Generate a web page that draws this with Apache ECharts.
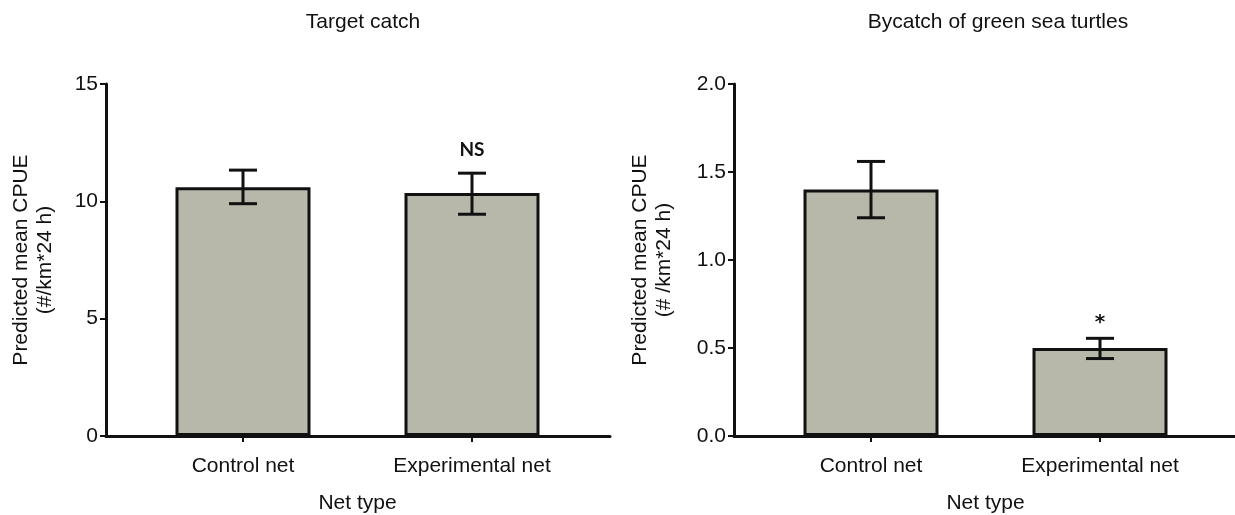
<!DOCTYPE html>
<html>
<head>
<meta charset="utf-8">
<script src="https://cdn.jsdelivr.net/npm/echarts@6/dist/echarts.min.js"></script>
<style>
html,body{margin:0;padding:0;background:#fff;}
#chart{width:1235px;height:515px;}
</style>
</head>
<body>
<div id="chart"></div>
<script>
// ---- data ----
const categories = ['Control net', 'Experimental net'];

const targetMean = [10.6, 10.35];
const targetLow  = [9.9, 9.45];
const targetHigh = [11.33, 11.2];
const targetSig  = ['', 'NS'];
const targetTicks = { min: 0, max: 15, interval: 5 };

const turtleMean = [1.40, 0.50];
const turtleLow  = [1.24, 0.44];
const turtleHigh = [1.56, 0.555];
const turtleSig  = ['', '*'];
const turtleTicks = { min: 0, max: 2, interval: 0.5 };

const titles = ['Target catch', 'Bycatch of green sea turtles'];
const yNames = ['Predicted mean CPUE\n(#/km*24 h)', 'Predicted mean CPUE\n(# /km*24 h)'];
const xName = 'Net type';

// ---- styling ----
const FONT = 'Liberation Sans, Arial, sans-serif';
const INK = '#111';
const BAR = '#b7b7aa';

const chart = echarts.init(document.getElementById('chart'), null, { renderer: 'canvas' });

function errSeries(gridIdx, low, high, sig) {
  return {
    type: 'custom',
    xAxisIndex: gridIdx * 2 + 1,
    yAxisIndex: gridIdx * 2 + 1,
    z: 5,
    data: categories.map((c, i) => [i, low[i], high[i]]),
    renderItem: function (params, api) {
      const i = api.value(0);
      const lo = api.coord([i, api.value(1)]);
      const hi = api.coord([i, api.value(2)]);
      const hw = 14;
      const st = { stroke: INK, lineWidth: 3 };
      const children = [
        { type: 'line', shape: { x1: lo[0], y1: lo[1], x2: hi[0], y2: hi[1] }, style: st },
        { type: 'line', shape: { x1: hi[0] - hw, y1: hi[1], x2: hi[0] + hw, y2: hi[1] }, style: st },
        { type: 'line', shape: { x1: lo[0] - hw, y1: lo[1], x2: lo[0] + hw, y2: lo[1] }, style: st }
      ];
      const s = sig[params.dataIndex];
      if (s) {
        const isStar = s === '*';
        children.push({
          type: 'text',
          style: {
            text: s, x: hi[0], y: isStar ? hi[1] - 6 : hi[1] - 14,
            align: 'center', verticalAlign: 'bottom',
            font: isStar ? 'bold 20px "DejaVu Sans", sans-serif' : 'bold 19px Lato, "Open Sans", sans-serif',
            fill: INK
          }
        });
      }
      return { type: 'group', children: children };
    }
  };
}

function barSeries(gridIdx, vals) {
  return {
    type: 'bar',
    xAxisIndex: gridIdx * 2 + 1,
    yAxisIndex: gridIdx * 2 + 1,
    data: vals,
    barWidth: 135,
    itemStyle: { color: BAR, borderColor: INK, borderWidth: 3 },
    animation: false
  };
}

const gridTop = 84, gridBottom = 79;
const G = { top: gridTop, bottom: gridBottom, containLabel: false, outerBoundsMode: 'none' };
const grids = [
  Object.assign({ left: 106, width: 504 }, G),        // axes frame (left)
  Object.assign({ left: 128.5, width: 458 }, G),      // bars (left)
  Object.assign({ left: 734, width: 504 }, G),        // axes frame (right)
  Object.assign({ left: 756.5, width: 458 }, G)       // bars (right)
];

function frameX(gi) {
  return {
    gridIndex: gi, type: 'value', min: 0, max: 1,
    axisLine: { show: true, onZero: false, lineStyle: { color: INK, width: 3 } },
    axisTick: { show: false }, axisLabel: { show: false }, splitLine: { show: false }
  };
}
function catX(gi) {
  return {
    gridIndex: gi, type: 'category', data: categories,
    axisLine: { show: false },
    axisTick: { show: true, alignWithLabel: true, length: 6, lineStyle: { color: INK, width: 2 } },
    axisLabel: { show: true, margin: 20, fontFamily: FONT, fontSize: 21, color: INK },
    name: xName, nameLocation: 'middle', nameGap: 57,
    nameTextStyle: { fontFamily: FONT, fontSize: 21, color: INK },
    splitLine: { show: false }
  };
}
function frameY(gi, t, name, gap) {
  return {
    gridIndex: gi, type: 'value', min: t.min, max: t.max, interval: t.interval,
    axisLine: { show: true, lineStyle: { color: INK, width: 3 } },
    axisTick: { show: true, length: 6, lineStyle: { color: INK, width: 2 } },
    axisLabel: {
      margin: 8, fontFamily: FONT, fontSize: 21, color: INK,
      formatter: v => (t.interval < 1 ? v.toFixed(1) : String(v))
    },
    splitLine: { show: false },
    name: name, nameLocation: 'middle', nameGap: gap, nameRotate: 90,
    nameTextStyle: { fontFamily: FONT, fontSize: 21, color: INK, lineHeight: 24, align: 'center' }
  };
}
function hiddenY(gi, t) {
  return { gridIndex: gi, type: 'value', min: t.min, max: t.max, interval: t.interval, show: false };
}

const option = {
  animation: false,
  backgroundColor: '#fff',
  title: [
    { text: titles[0], left: 358, top: 7, textAlign: 'center',
      textStyle: { fontFamily: FONT, fontSize: 21, fontWeight: 'normal', color: INK } },
    { text: titles[1], left: 993, top: 7, textAlign: 'center',
      textStyle: { fontFamily: FONT, fontSize: 21, fontWeight: 'normal', color: INK } }
  ],
  grid: grids,
  xAxis: [frameX(0), catX(1), frameX(2), catX(3)],
  yAxis: [
    frameY(0, targetTicks, yNames[0], 49),
    hiddenY(1, targetTicks),
    frameY(2, turtleTicks, yNames[1], 58),
    hiddenY(3, turtleTicks)
  ],
  series: [
    barSeries(0, targetMean),
    errSeries(0, targetLow, targetHigh, targetSig),
    barSeries(1, turtleMean),
    errSeries(1, turtleLow, turtleHigh, turtleSig)
  ]
};
chart.setOption(option);
</script>
</body>
</html>
